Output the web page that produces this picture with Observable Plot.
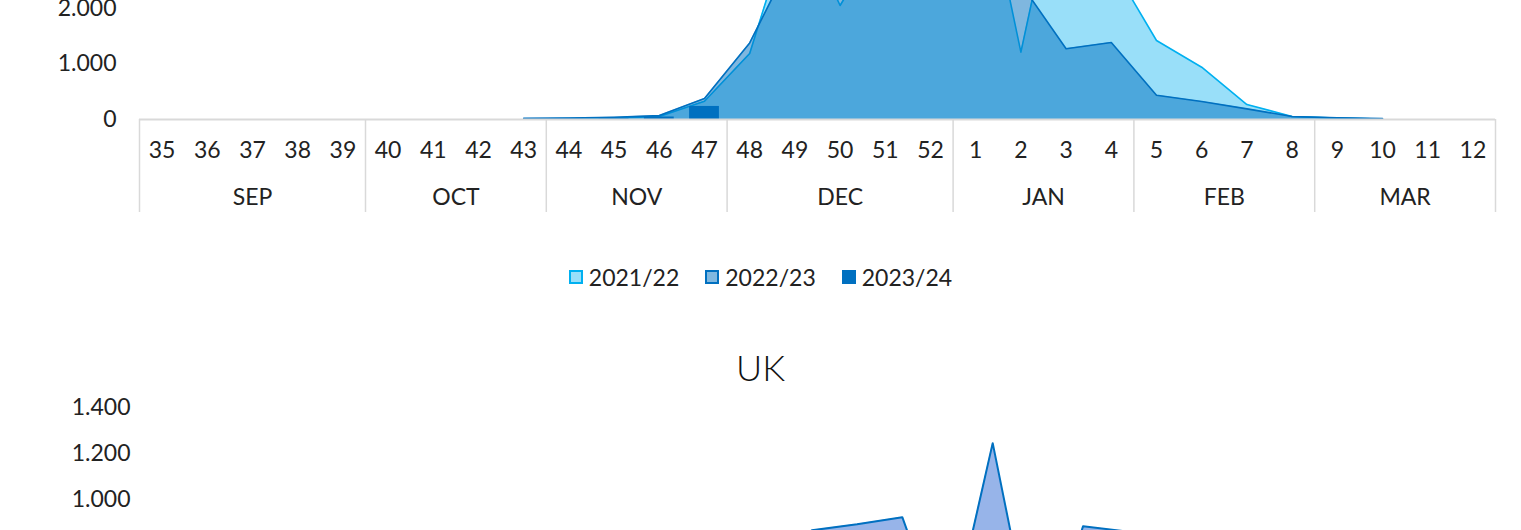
<!DOCTYPE html>
<html><head><meta charset="utf-8">
<script src="https://cdn.jsdelivr.net/npm/d3@7"></script>
<script src="https://cdn.jsdelivr.net/npm/@observablehq/plot@0.6"></script>
<style>
html,body{margin:0;padding:0;background:#fff;}
body{width:1521px;height:530px;overflow:hidden;position:relative;font-family:Lato,"Open Sans",sans-serif;color:#222;}
#top{position:absolute;left:0;top:-224px;}
#uk{position:absolute;left:0;top:387px;}
#legend{position:absolute;left:0;width:1521px;top:262px;height:30px;display:flex;justify-content:center;align-items:center;gap:26px;font-size:23px;color:#222;}
.item{display:flex;align-items:center;gap:6px;}
.sw{width:14px;height:14px;box-sizing:border-box;}
#ukTitle{position:absolute;left:0;width:1521px;text-align:center;top:344px;font-size:36px;font-weight:300;line-height:46px;color:#111;}
</style></head><body>
<div id="top"></div>
<div id="legend"></div>
<div id="ukTitle">UK</div>
<div id="uk"></div>
<script>
// ---- data ----
const weeks = ["35","36","37","38","39","40","41","42","43","44","45","46","47","48","49","50","51","52","1","2","3","4","5","6","7","8","9","10","11","12"];
const months = ["SEP","OCT","NOV","DEC","JAN","FEB","MAR"];
const monthSpan = [5,4,4,5,4,4,4];
const seasons = ["2021/22","2022/23","2023/24"];
const top2122 = [null,null,null,null,null,null,null,null,10,15,25,55,330,1190,3800,2054,3400,4300,5100,1213,5000,2800,1423,942,270,54,25,10,null,null];
const top2223 = [null,null,null,null,null,null,null,null,20,25,40,70,380,1380,3000,3700,4300,4700,3500,2444,1274,1387,438,324,192,54,30,15,null,null];
const top2324 = [null,null,null,null,null,null,null,null,null,8,15,45,235,null,null,null,null,null,null,null,null,null,null,null,null,null,null,null,null,null];
const uk2223 = [null,null,null,null,null,20,35,60,100,160,260,400,560,720,866,892,923,380,1245,272,884,860,620,420,280,180,110,70,45,30];
// tick labels visible in the cropped view
const yTicksTop = [0,1000,2000];
const yTicksUK = [1000,1200,1400];

// ---- helpers ----
const loc = d3.formatLocale({decimal:",", thousands:".", grouping:[3], currency:["","€"]});
const fmt = loc.format(",");
const rows = arr => arr.map((v,i)=>({i, v})).filter(d => d.v != null);
const bounds = [-0.5]; const centers = [];
{ let acc = -0.5; monthSpan.forEach(n => { centers.push(acc + n/2); acc += n; bounds.push(acc); }); }
const style = {fontFamily:"Lato, 'Open Sans', sans-serif", fontSize:"23px", color:"#222", background:"transparent", overflow:"visible"};

// ---- top chart ----
const topPlot = Plot.plot({
  width:1521, height:443, marginLeft:139, marginRight:26, marginTop:10, marginBottom:100,
  x:{type:"linear", domain:[-0.5,29.5]},
  y:{domain:[0,6000]},
  style,
  marks:[
    Plot.areaY(rows(top2122),{x:"i", y:"v", fill:"#00B0F0", fillOpacity:0.4}),
    Plot.lineY(rows(top2122),{x:"i", y:"v", stroke:"#00B0F0", strokeWidth:1.6}),
    Plot.areaY(rows(top2223),{x:"i", y:"v", fill:"#0070C0", fillOpacity:0.5}),
    Plot.lineY(rows(top2223),{x:"i", y:"v", stroke:"#0070C0", strokeWidth:1.6}),
    Plot.rectY(rows(top2324),{x1:d=>d.i-0.33, x2:d=>d.i+0.33, y:"v", fill:"#0070C0"}),
    Plot.ruleY([0],{stroke:"#D9D9D9", strokeWidth:2}),
    Plot.axisY({ticks:yTicksTop, tickFormat:fmt, tickSize:0, tickPadding:23, label:null}),
    Plot.axisX({ticks:d3.range(weeks.length), tickFormat:i=>weeks[i], tickSize:0, tickPadding:22, label:null}),
    Plot.axisX({ticks:centers, tickFormat:d=>months[centers.indexOf(d)], tickSize:0, tickPadding:69, label:null}),
    Plot.axisX({ticks:bounds, tickFormat:()=>"", tickSize:93, stroke:"#D9D9D9", strokeWidth:1.5, label:null})
  ]
});
document.getElementById("top").append(topPlot);

// ---- legend ----
const sw = [
  {fill:"#99DFF9", border:"2px solid #00B0F0"},
  {fill:"#80B8E0", border:"2px solid #0070C0"},
  {fill:"#0070C0", border:"none"}
];
const leg = document.getElementById("legend");
seasons.forEach((s,k) => {
  const it = document.createElement("div"); it.className = "item";
  const b = document.createElement("div"); b.className = "sw";
  b.style.background = sw[k].fill; b.style.border = sw[k].border;
  const t = document.createElement("span"); t.textContent = s;
  it.append(b, t); leg.append(it);
});

// ---- UK chart ----
const ukPlot = Plot.plot({
  width:1521, height:462, marginLeft:156, marginRight:9, marginTop:20, marginBottom:120,
  x:{type:"linear", domain:[-0.5,29.5], axis:null},
  y:{domain:[0,1400]},
  style,
  marks:[
    Plot.areaY(rows(uk2223),{x:"i", y:"v", fill:"#97B4E9"}),
    Plot.lineY(rows(uk2223),{x:"i", y:"v", stroke:"#0070C0", strokeWidth:2}),
    Plot.axisY({ticks:yTicksUK, tickFormat:fmt, tickSize:0, tickPadding:26, label:null})
  ]
});
document.getElementById("uk").append(ukPlot);
</script>
</body></html>
